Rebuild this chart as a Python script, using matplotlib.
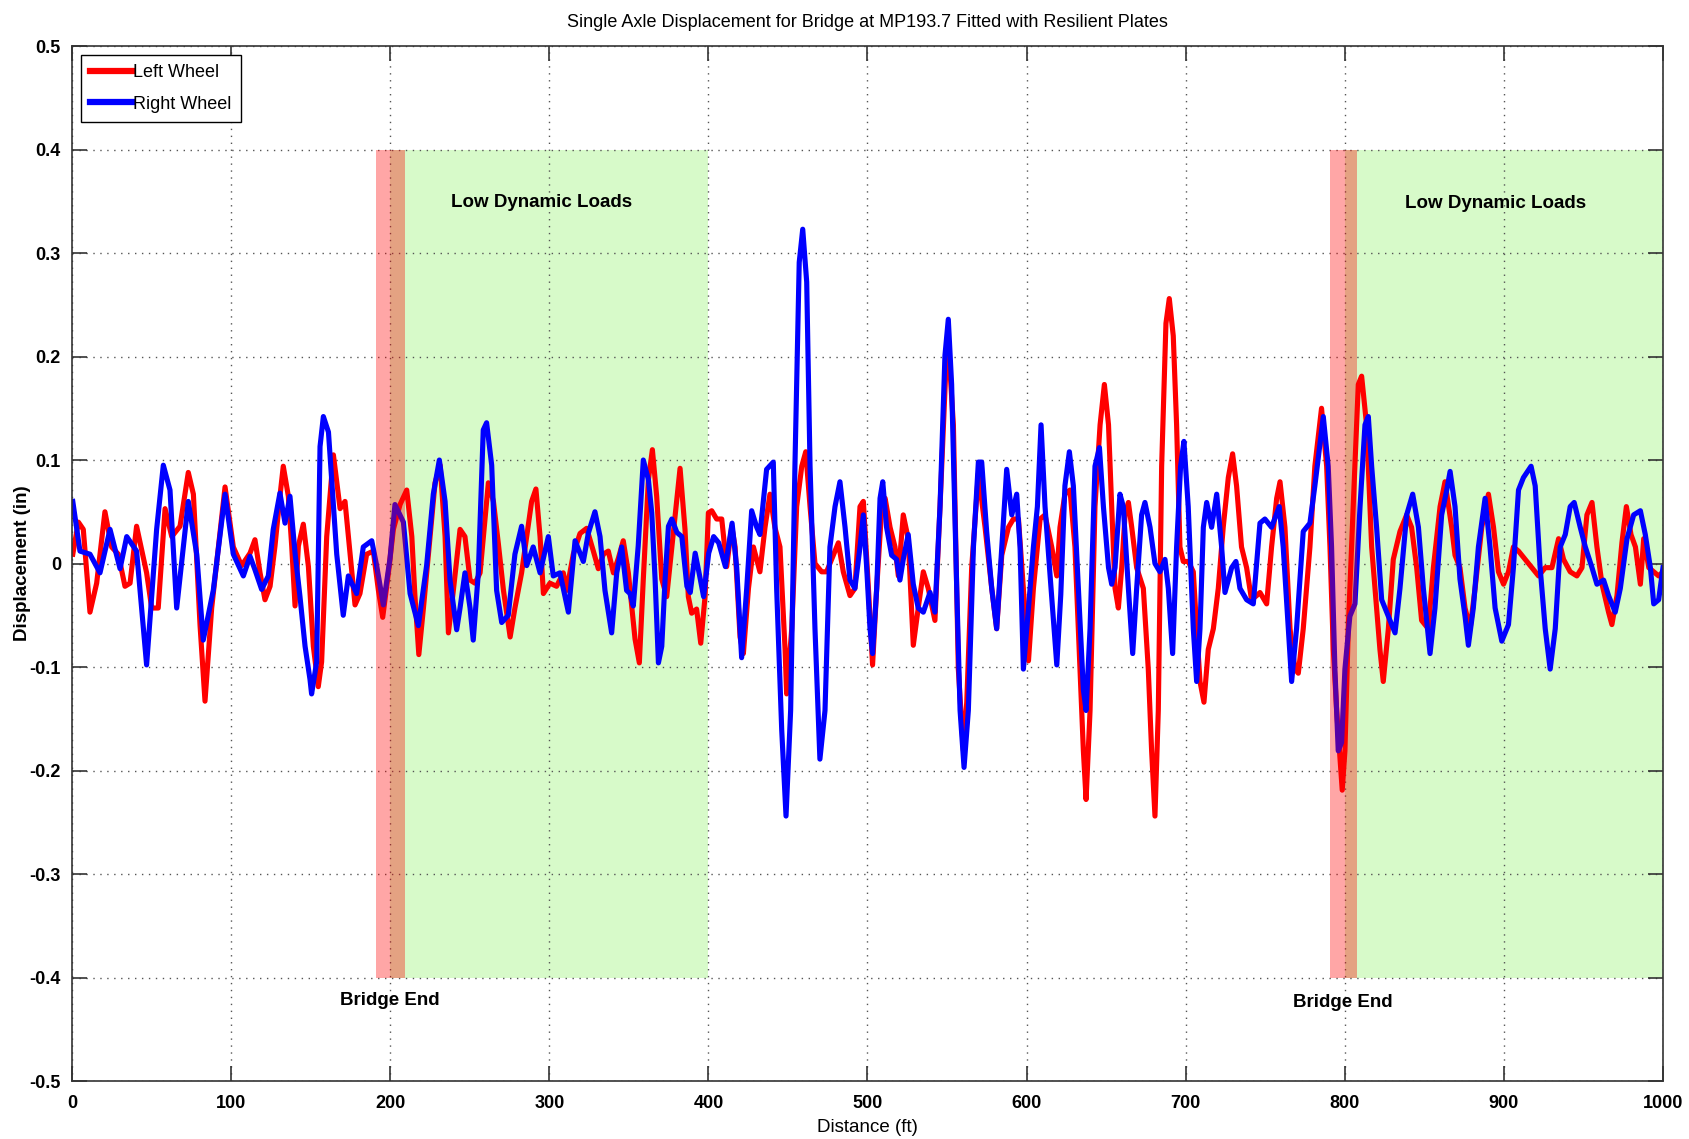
import matplotlib
matplotlib.use('Agg')
from matplotlib import pyplot as plt

# ---- data ----
left_x = [0.5, 4.0, 7.1, 11.3, 15.5, 20.7, 24.9, 29.1, 33.3, 36.5, 40.6, 46.9, 50.1, 54.2,
          58.5, 62.7, 67.9, 73.1, 76.3, 80.5, 83.6, 87.8, 96.2, 101.4, 106.6, 111.9, 115.0,
          118.2, 121.3, 124.5, 127.6, 130.7, 132.8, 136.0, 138.1, 140.2, 142.3, 145.4, 148.6,
          151.7, 154.8, 156.9, 160.1, 164.3, 168.5, 171.6, 174.8, 177.9, 181.0, 185.2, 189.4,
          192.6, 195.3, 198.9, 202.0, 206.2, 210.4, 213.6, 215.5, 218.0, 220.9, 225.1, 228.2,
          231.4, 234.5, 236.6, 239.7, 243.9, 247.0, 250.2, 253.3, 256.5, 259.6, 261.7, 264.9,
          268.0, 271.2, 275.4, 278.4, 282.6, 285.8, 288.9, 291.6, 294.2, 296.3, 300.4, 304.6,
          308.8, 310.9, 315.1, 319.3, 323.5, 327.7, 330.8, 334.0, 337.1, 340.3, 343.4, 346.5,
          349.7, 353.9, 356.6, 359.1, 362.3, 364.8, 367.5, 370.7, 373.8, 382.2, 385.3, 387.4,
          389.5, 392.6, 395.2, 397.9, 400.0, 402.1, 405.2, 408.4, 411.5, 414.7, 416.8, 419.9,
          422.0, 425.2, 428.3, 432.4, 435.6, 438.7, 441.8, 445.0, 448.2, 449.2, 452.4, 455.5,
          458.7, 461.2, 463.9, 467.0, 471.2, 474.3, 477.5, 481.7, 484.8, 489.0, 492.1, 495.3,
          497.4, 500.6, 503.2, 505.8, 509.0, 511.1, 514.2, 517.3, 519.4, 522.5, 525.6, 528.8,
          531.9, 535.1, 538.2, 542.4, 545.6, 549.4, 550.8, 554.0, 557.1, 560.3, 562.4, 565.5,
          569.7, 573.9, 578.1, 581.2, 584.4, 588.6, 591.7, 594.9, 598.0, 601.2, 604.3, 608.5,
          611.6, 615.8, 619.0, 621.0, 624.1, 627.3, 630.4, 633.6, 635.7, 637.4, 639.9, 643.0,
          646.2, 648.9, 651.5, 653.5, 655.6, 657.7, 659.8, 661.9, 664.0, 666.1, 669.2, 673.4,
          676.5, 678.6, 680.7, 682.8, 684.9, 687.6, 689.7, 692.2, 694.3, 696.4, 698.5, 701.6,
          704.8, 706.9, 709.0, 711.5, 714.2, 717.4, 720.5, 723.6, 726.8, 729.5, 732.0, 735.1,
          738.3, 741.4, 744.6, 746.7, 750.9, 754.0, 757.2, 759.3, 762.4, 765.6, 768.7, 770.8,
          773.9, 778.1, 781.2, 785.4, 788.6, 790.7, 792.8, 794.9, 797.0, 798.4, 800.1, 802.2,
          805.3, 808.5, 810.6, 813.7, 816.9, 820.0, 822.1, 824.2, 827.4, 830.5, 834.7, 838.9,
          842.0, 845.2, 848.3, 852.5, 855.7, 859.9, 863.0, 867.2, 869.3, 872.4, 875.6, 878.8,
          881.9, 886.1, 890.3, 893.5, 896.6, 899.8, 902.9, 906.0, 909.2, 913.4, 917.6, 921.8,
          926.0, 930.2, 934.4, 937.5, 941.7, 945.9, 949.1, 952.2, 955.4, 958.5, 961.7, 965.8,
          967.9, 971.1, 974.2, 977.0, 979.9, 982.7, 985.8, 987.9, 991.1, 994.2, 997.3, 1000.0]
left_y = [0.009, 0.040, 0.033, -0.047, -0.019, 0.050, 0.016, 0.009, -0.022, -0.019, 0.036, -0.009, -0.043, -0.043,
          0.053, 0.026, 0.036, 0.088, 0.067, -0.060, -0.133, -0.043, 0.074, 0.016, -0.002, 0.010, 0.023,
          -0.009, -0.035, -0.022, 0.017, 0.065, 0.094, 0.065, 0.017, -0.041, 0.017, 0.038, -0.003,
          -0.080, -0.119, -0.095, 0.026, 0.105, 0.053, 0.060, 0.009, -0.040, -0.029, 0.009, 0.012,
          -0.026, -0.052, -0.009, 0.033, 0.057, 0.071, 0.026, -0.030, -0.088, -0.043, 0.026, 0.078,
          0.095, 0.026, -0.067, -0.026, 0.033, 0.026, -0.016, -0.019, -0.009, 0.043, 0.078, 0.060,
          0.019, -0.026, -0.071, -0.043, -0.009, 0.026, 0.060, 0.072, 0.026, -0.029, -0.019, -0.022,
          -0.009, -0.026, 0.009, 0.029, 0.034, 0.012, -0.005, 0.009, 0.012, -0.009, 0.005, 0.022,
          -0.009, -0.073, -0.096, -0.015, 0.081, 0.110, 0.065, -0.015, -0.032, 0.092, 0.033, -0.032,
          -0.048, -0.044, -0.077, -0.032, 0.049, 0.051, 0.043, 0.043, -0.003, 0.036, 0.016, -0.071,
          -0.087, -0.024, 0.016, -0.008, 0.035, 0.067, 0.035, 0.016, -0.083, -0.126, -0.063, 0.055,
          0.094, 0.108, 0.055, 0.000, -0.008, -0.008, 0.004, 0.020, -0.008, -0.031, -0.024, 0.055,
          0.060, -0.024, -0.098, -0.024, 0.055, 0.063, 0.035, 0.016, -0.012, 0.047, 0.024, -0.079,
          -0.043, -0.008, -0.024, -0.055, 0.055, 0.193, 0.213, 0.134, -0.102, -0.181, -0.134, -0.004,
          0.087, 0.035, -0.024, -0.063, 0.008, 0.035, 0.043, 0.043, -0.024, -0.094, -0.024, 0.043,
          0.047, 0.016, -0.012, 0.035, 0.067, 0.071, 0.016, -0.102, -0.181, -0.228, -0.142, 0.055,
          0.134, 0.173, 0.134, 0.055, -0.024, -0.043, -0.004, 0.047, 0.059, 0.035, -0.004, -0.024,
          -0.102, -0.181, -0.244, -0.142, 0.094, 0.232, 0.256, 0.220, 0.134, 0.016, 0.002, 0.002,
          -0.008, -0.063, -0.114, -0.134, -0.083, -0.063, -0.024, 0.035, 0.083, 0.106, 0.075, 0.016,
          -0.004, -0.035, -0.031, -0.028, -0.039, 0.016, 0.063, 0.079, 0.035, -0.063, -0.102, -0.106,
          -0.063, 0.016, 0.094, 0.150, 0.094, 0.016, -0.083, -0.142, -0.189, -0.219, -0.181, -0.063,
          0.055, 0.173, 0.181, 0.134, 0.016, -0.043, -0.083, -0.114, -0.063, 0.004, 0.031, 0.047,
          0.035, -0.004, -0.055, -0.063, -0.004, 0.055, 0.079, 0.035, 0.008, -0.004, -0.043, -0.063,
          -0.024, 0.035, 0.067, 0.035, -0.008, -0.020, -0.008, 0.016, 0.012, 0.004, -0.004, -0.012,
          -0.004, -0.004, 0.024, 0.004, -0.008, -0.012, -0.004, 0.047, 0.059, 0.016, -0.020, -0.047,
          -0.059, -0.031, 0.020, 0.055, 0.028, 0.016, -0.020, 0.024, -0.004, -0.008, -0.012, -0.008]

right_x = [0.5, 5.0, 11.3, 17.6, 23.9, 30.2, 34.4, 40.6, 46.9, 53.2, 57.4, 61.6, 65.8, 73.1,
           78.4, 82.5, 88.8, 96.2, 101.4, 107.7, 111.9, 115.0, 119.2, 123.4, 126.5, 130.7, 133.9,
           137.0, 140.2, 143.3, 146.5, 149.6, 150.6, 153.8, 155.9, 158.0, 161.2, 166.4, 170.5,
           173.7, 178.9, 183.1, 188.4, 191.5, 195.7, 199.9, 203.0, 208.3, 212.5, 217.7, 222.9,
           227.1, 230.9, 234.5, 237.6, 241.8, 243.9, 247.0, 250.2, 252.2, 255.4, 258.5, 260.6,
           263.8, 266.9, 270.1, 274.2, 278.4, 282.6, 285.8, 289.9, 294.2, 299.4, 302.5, 306.7,
           312.0, 316.2, 321.4, 324.5, 328.7, 331.9, 335.0, 339.2, 342.4, 345.5, 348.6, 350.7,
           352.8, 355.9, 359.1, 362.3, 364.4, 366.5, 368.6, 370.7, 372.8, 374.9, 377.0, 380.2,
           383.3, 386.5, 388.6, 391.7, 394.9, 397.0, 400.2, 403.3, 406.5, 410.7, 414.9, 417.8,
           420.9, 424.1, 427.2, 430.4, 432.4, 436.6, 440.8, 442.9, 446.1, 448.8, 451.7, 454.4,
           457.1, 459.3, 461.8, 463.9, 467.0, 470.1, 473.3, 476.4, 479.6, 482.7, 485.9, 489.0,
           492.1, 495.3, 497.4, 499.5, 501.6, 503.2, 505.8, 507.9, 509.6, 512.0, 515.2, 518.3,
           520.4, 522.5, 525.6, 528.8, 531.9, 535.1, 539.3, 542.4, 545.6, 548.7, 550.8, 552.9,
           556.1, 558.2, 560.7, 563.4, 566.6, 569.7, 571.8, 574.9, 578.1, 581.2, 584.4, 587.5,
           590.7, 593.8, 595.9, 598.0, 601.2, 604.3, 606.8, 609.1, 611.6, 614.8, 619.0, 621.5,
           624.1, 626.9, 629.4, 632.6, 635.7, 637.4, 639.9, 643.0, 645.8, 648.3, 651.5, 653.5,
           655.6, 658.7, 660.8, 664.0, 666.7, 669.2, 672.3, 674.4, 677.6, 680.7, 683.8, 687.0,
           689.1, 691.8, 694.3, 696.8, 698.9, 701.6, 704.8, 706.9, 709.0, 711.1, 713.2, 716.3,
           719.5, 722.6, 724.7, 728.9, 731.6, 734.1, 738.3, 742.5, 746.7, 749.8, 754.0, 758.8,
           761.3, 764.5, 766.6, 769.7, 773.9, 778.1, 781.2, 786.5, 789.6, 791.7, 793.8, 795.9,
           798.0, 800.1, 803.2, 806.4, 809.6, 812.7, 814.8, 816.9, 820.0, 823.2, 827.4, 831.6,
           834.7, 838.9, 842.7, 846.3, 849.4, 853.6, 856.7, 860.9, 864.1, 866.2, 869.3, 872.4,
           875.6, 877.7, 880.8, 884.0, 888.2, 891.3, 894.5, 898.7, 902.9, 906.0, 909.2, 912.3,
           917.1, 919.7, 922.8, 926.0, 929.1, 932.3, 935.4, 938.6, 941.7, 944.2, 948.0, 951.2,
           955.4, 958.5, 962.7, 965.8, 970.0, 973.2, 977.4, 981.6, 985.8, 988.9, 992.1, 994.2,
           997.3, 1000.0]
right_y = [0.060, 0.012, 0.009, -0.009, 0.033, -0.005, 0.026, 0.012, -0.098, 0.033, 0.095, 0.071, -0.043, 0.060,
           0.009, -0.074, -0.026, 0.067, 0.009, -0.012, 0.007, -0.006, -0.025, -0.012, 0.033, 0.068, 0.039,
           0.065, 0.010, -0.032, -0.080, -0.112, -0.126, -0.095, 0.113, 0.142, 0.127, 0.009, -0.050,
           -0.012, -0.029, 0.016, 0.022, -0.002, -0.040, 0.005, 0.057, 0.040, -0.029, -0.060, -0.002,
           0.067, 0.100, 0.060, -0.016, -0.064, -0.043, -0.009, -0.043, -0.074, -0.009, 0.129, 0.136,
           0.095, -0.026, -0.057, -0.050, 0.009, 0.036, -0.002, 0.016, -0.009, 0.026, -0.012, -0.009,
           -0.047, 0.022, 0.002, 0.029, 0.050, 0.026, -0.026, -0.067, -0.009, 0.016, -0.026, -0.029,
           -0.041, 0.017, 0.100, 0.081, 0.049, -0.015, -0.096, -0.080, -0.015, 0.036, 0.043, 0.030,
           0.026, -0.022, -0.028, 0.010, -0.015, -0.032, 0.010, 0.026, 0.020, -0.003, 0.039, -0.004,
           -0.091, -0.024, 0.051, 0.035, 0.028, 0.091, 0.098, -0.024, -0.161, -0.244, -0.142, 0.094,
           0.291, 0.323, 0.272, 0.094, -0.063, -0.189, -0.142, 0.016, 0.055, 0.079, 0.035, -0.016,
           -0.024, 0.016, 0.047, -0.004, -0.063, -0.087, -0.024, 0.063, 0.079, 0.035, 0.008, 0.004,
           -0.016, 0.004, 0.028, -0.020, -0.043, -0.047, -0.028, -0.047, 0.055, 0.201, 0.236, 0.173,
           -0.024, -0.142, -0.197, -0.142, 0.016, 0.098, 0.098, 0.031, -0.024, -0.063, 0.016, 0.091,
           0.047, 0.067, 0.016, -0.102, -0.043, 0.016, 0.055, 0.134, 0.055, -0.012, -0.098, -0.030,
           0.075, 0.108, 0.075, -0.024, -0.122, -0.142, -0.063, 0.094, 0.112, 0.055, -0.004, -0.020,
           -0.004, 0.067, 0.055, -0.024, -0.087, -0.024, 0.047, 0.059, 0.035, 0.000, -0.008, 0.004,
           -0.024, -0.087, 0.016, 0.094, 0.118, 0.055, -0.063, -0.114, -0.063, 0.035, 0.059, 0.035,
           0.067, 0.016, -0.028, -0.004, 0.002, -0.024, -0.035, -0.039, 0.039, 0.043, 0.035, 0.055,
           0.016, -0.063, -0.114, -0.063, 0.031, 0.039, 0.075, 0.142, 0.094, 0.016, -0.102, -0.181,
           -0.173, -0.102, -0.051, -0.039, 0.055, 0.134, 0.142, 0.094, 0.035, -0.035, -0.051, -0.067,
           -0.024, 0.047, 0.067, 0.035, -0.024, -0.087, -0.043, 0.047, 0.071, 0.089, 0.055, -0.015,
           -0.051, -0.079, -0.043, 0.016, 0.063, 0.016, -0.043, -0.075, -0.059, -0.004, 0.071, 0.083,
           0.094, 0.075, -0.004, -0.063, -0.102, -0.063, 0.016, 0.028, 0.055, 0.059, 0.035, 0.016,
           -0.004, -0.020, -0.016, -0.031, -0.047, -0.024, 0.024, 0.047, 0.051, 0.028, -0.004, -0.039,
           -0.035, -0.004]

# shaded zones (ft)
low_load_zones = [(200, 400), (800, 1000)]
bridge_end_zones = [(191, 209), (791, 808)]
zone_labels_low = [(295, 0.349), (895, 0.348)]
zone_labels_end = [(200, -0.422), (799, -0.424)]

xticks = [0, 100, 200, 300, 400, 500, 600, 700, 800, 900, 1000]
yticks = [0.5, 0.4, 0.3, 0.2, 0.1, 0.0, -0.1, -0.2, -0.3, -0.4, -0.5]
ytick_labels = ['0.5', '0.4', '0.3', '0.2', '0.1', '0', '-0.1', '-0.2', '-0.3', '-0.4', '-0.5']

plt.rcParams['font.family'] = ['Liberation Sans', 'DejaVu Sans']

fig = plt.figure(figsize=(16.9, 11.39), dpi=100)
ax = fig.add_axes([0.0426, 0.0509, 0.9414, 0.9087])

for a, b in low_load_zones:
    ax.fill_between([a, b], -0.4, 0.4, color='#d7fac9', lw=0, zorder=1)
for a, b in bridge_end_zones:
    ax.fill_between([a, b], -0.4, 0.4, color='red', alpha=0.35, lw=0, zorder=3)

ax.plot(left_x, left_y, color='#ff0000', lw=3.7, label='Left Wheel', zorder=2)
ax.plot(right_x, right_y, color='#0000ff', lw=3.7, label='Right Wheel', zorder=2.1)

for x, y in zone_labels_low:
    ax.text(x, y, 'Low Dynamic Loads', ha='center', va='center', fontsize=13.5,
            fontweight='bold', zorder=4)
for x, y in zone_labels_end:
    ax.text(x, y, 'Bridge End', ha='center', va='center', fontsize=13.5,
            fontweight='bold', zorder=4)

ax.set_xlim(0, 1000)
ax.set_ylim(-0.5, 0.5)
ax.set_xticks(xticks)
ax.set_xticklabels([str(t) for t in xticks], fontsize=13, fontweight='bold')
ax.set_yticks(yticks)
ax.set_yticklabels(ytick_labels, fontsize=13, fontweight='bold')
ax.tick_params(direction='in', length=11, width=1.2, top=True, right=True,
               color='#333333', pad=8)
ax.tick_params(axis='x', pad=10)
ax.grid(True, linestyle=(0, (1, 4)), color='#555555', lw=1.0)

for s in ax.spines.values():
    s.set_color('#333333')
    s.set_linewidth(1.2)

ax.set_title('Single Axle Displacement for Bridge at MP193.7 Fitted with Resilient Plates',
             fontsize=13, pad=14)
ax.set_xlabel('Distance (ft)', fontsize=13.5, labelpad=5)
ax.set_ylabel('Displacement (in)', fontsize=13.5, fontweight='bold', labelpad=-1)

leg = ax.legend(loc='upper left', fontsize=13, handlelength=2.3, handletextpad=0.1,
                borderpad=0.5, labelspacing=0.8, fancybox=False, framealpha=1,
                borderaxespad=0.5)
leg.get_frame().set_edgecolor('black')
leg.get_frame().set_linewidth(1.0)
for ln in leg.get_lines():
    ln.set_linewidth(4.5)

fig.savefig('out.png', dpi=100)
